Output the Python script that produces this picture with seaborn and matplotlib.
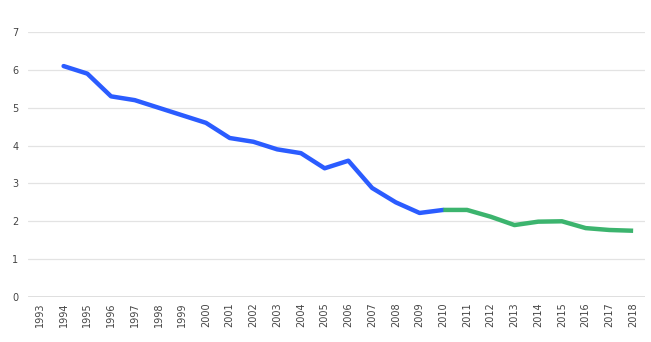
import matplotlib
matplotlib.use("Agg")
import matplotlib.pyplot as plt
import seaborn as sns
import pandas as pd

years = list(range(1993, 2019))

early_years = [1994, 1995, 1996, 1997, 1998, 1999, 2000, 2001, 2002,
               2003, 2004, 2005, 2006, 2007, 2008, 2009, 2010]
early_values = [6.1, 5.9, 5.3, 5.2, 5.0, 4.8, 4.6, 4.2, 4.1,
                3.9, 3.8, 3.4, 3.6, 2.88, 2.5, 2.22, 2.3]

late_years = [2010, 2011, 2012, 2013, 2014, 2015, 2016, 2017, 2018]
late_values = [2.3, 2.3, 2.12, 1.9, 1.99, 2.0, 1.82, 1.77, 1.75]

y_ticks = [0, 1, 2, 3, 4, 5, 6, 7]

sns.set_theme(style="white")
plt.rcParams['font.family'] = ['DejaVu Sans']

fig = plt.figure(figsize=(6.51, 3.42), dpi=100)
ax = fig.add_axes([28 / 651, 1 - 297 / 342, 617 / 651, 265 / 342])

df_early = pd.DataFrame({"year": early_years, "value": early_values})
df_late = pd.DataFrame({"year": late_years, "value": late_values})

sns.lineplot(data=df_early, x="year", y="value", ax=ax, color="#2b5cff",
             linewidth=3.2, solid_capstyle="round", solid_joinstyle="round")
sns.lineplot(data=df_late, x="year", y="value", ax=ax, color="#3cb46e",
             linewidth=3.2, solid_capstyle="butt", solid_joinstyle="round")

ax.set_xlim(years[0] - 0.5, years[-1] + 0.5)
ax.set_ylim(0, 7)
ax.set_yticks(y_ticks)
ax.set_xticks(years)
ax.set_xticklabels([str(y) for y in years], rotation=90)
ax.tick_params(axis="both", labelsize=7, colors="#444444", length=0)
ax.tick_params(axis="y", pad=7)
ax.tick_params(axis="x", pad=4)

for t in y_ticks[1:]:
    ax.axhline(t, color="#e3e3e3", linewidth=0.9, zorder=0)
ax.axhline(0, color="#dcdcdc", linewidth=2, zorder=0)

for s in ax.spines.values():
    s.set_visible(False)
ax.set_xlabel("")
ax.set_ylabel("")

fig.savefig("out.png", dpi=100)
